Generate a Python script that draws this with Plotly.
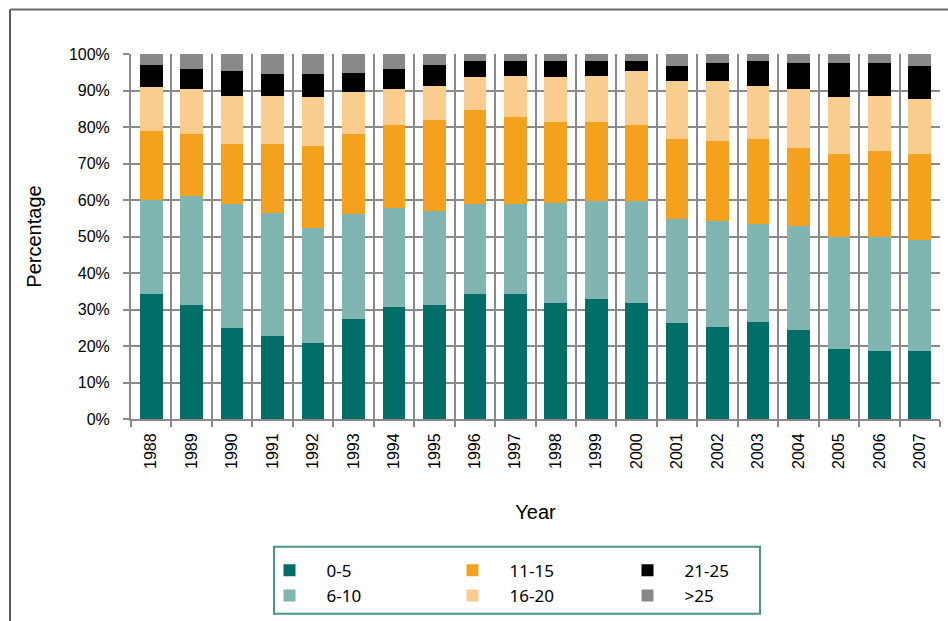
import plotly.graph_objects as go

# Years on the x axis
years = [str(y) for y in range(1988, 2008)]

# Share of each age band per year (percent of total), bottom to top
band_0_5 = [34.2, 31.1, 24.8, 22.7, 20.9, 27.4, 30.6, 31.1, 34.2, 34.2,
            31.9, 32.8, 31.9, 26.2, 25.3, 26.6, 24.4, 19.1, 18.6, 18.6]
band_6_10 = [25.9, 30.0, 34.0, 33.8, 31.5, 28.7, 27.3, 25.8, 24.6, 24.6,
             27.4, 26.9, 27.8, 28.5, 29.0, 26.8, 28.6, 30.7, 31.2, 30.4]
band_11_15 = [18.8, 16.9, 16.5, 18.8, 22.4, 21.9, 22.7, 24.9, 25.8, 24.0,
              22.2, 21.8, 20.9, 21.9, 21.9, 23.2, 21.3, 22.8, 23.7, 23.6]
band_16_20 = [12.0, 12.5, 13.3, 13.3, 13.4, 11.6, 9.8, 9.5, 9.0, 11.2,
              12.1, 12.5, 14.8, 16.1, 16.5, 14.7, 16.1, 15.6, 15.1, 15.1]
band_21_25 = [6.0, 5.3, 6.7, 5.9, 6.3, 5.3, 5.4, 5.6, 4.4, 4.0,
              4.4, 4.0, 2.6, 4.0, 4.9, 6.7, 7.2, 9.4, 9.0, 9.0]
band_over_25 = [3.1, 4.2, 4.7, 5.5, 5.5, 5.1, 4.2, 3.1, 2.0, 2.0,
                2.0, 2.0, 2.0, 3.3, 2.4, 2.0, 2.4, 2.4, 2.4, 3.3]

band_labels = ["0-5", "6-10", "11-15", "16-20", "21-25", ">25"]
band_values = [band_0_5, band_6_10, band_11_15, band_16_20, band_21_25, band_over_25]
band_colors = ["#016e68", "#80b5b2", "#f4a11d", "#f9cd8d", "#000000", "#888889"]
band_legends = ["legend", "legend", "legend2", "legend2", "legend3", "legend3"]

W, H = 948, 621
L, R, T, B = 131, 8, 53.5, 202
PW, PH = W - L - R, H - T - B


def px_x(x):
    return (x - L) / PW


def px_y(y):
    return (H - B - y) / PH


fig = go.Figure()
for label, vals, color, lg in zip(band_labels, band_values, band_colors, band_legends):
    fig.add_trace(go.Bar(
        x=years, y=vals, name=label, legend=lg,
        marker=dict(color=color, line=dict(width=0)),
    ))

grid = "#8a8a8a"
axis_font = dict(family="Liberation Sans, Arial, sans-serif", size=16, color="#000000")
title_font = dict(family="Liberation Sans, Arial, sans-serif", size=20, color="#000000")
legend_font = dict(family="Noto Sans, sans-serif", size=17, color="#000000")

legend_common = dict(
    orientation="v", xanchor="left", yanchor="top", traceorder="normal",
    y=px_y(553), bgcolor="rgba(0,0,0,0)", borderwidth=0,
    font=legend_font, itemwidth=64, tracegroupgap=0,
    itemclick=False, itemdoubleclick=False,
)

fig.update_layout(
    width=W, height=H,
    margin=dict(l=L, r=R, t=T, b=B, autoexpand=False),
    paper_bgcolor="white", plot_bgcolor="white",
    barmode="stack", bargap=0.44,
    showlegend=True,
    legend=dict(x=px_x(252.5), **legend_common),
    legend2=dict(x=px_x(435.5), **legend_common),
    legend3=dict(x=px_x(610.5), **legend_common),
    xaxis=dict(
        type="category", range=[-0.5, 19.5], tickson="boundaries",
        showgrid=True, gridcolor=grid, gridwidth=2,
        showline=True, linecolor=grid, linewidth=2,
        ticks="outside", ticklen=6, tickwidth=2, tickcolor=grid,
        tickangle=-90, tickfont=axis_font, ticklabelstandoff=6,
        title=dict(text="Year", font=title_font, standoff=37),
        automargin=False, fixedrange=True,
    ),
    yaxis=dict(
        range=[0, 100], dtick=10, ticksuffix="%",
        showgrid=True, gridcolor=grid, gridwidth=2,
        showline=True, linecolor=grid, linewidth=2,
        ticks="outside", ticklen=6, tickwidth=2, tickcolor=grid,
        tickfont=axis_font, ticklabelstandoff=10, zeroline=False,
        title=dict(text="Percentage", font=title_font, standoff=22),
        automargin=False, fixedrange=True,
    ),
    shapes=[
        # outer frame: left and top edges
        dict(type="line", xref="paper", yref="paper",
             x0=px_x(10), x1=px_x(10), y0=px_y(9), y1=px_y(H + 5),
             line=dict(color="#5a5a5a", width=2)),
        dict(type="line", xref="paper", yref="paper",
             x0=px_x(10), x1=px_x(W + 5), y0=px_y(9), y1=px_y(9),
             line=dict(color="#6a6a6a", width=2)),
        # legend box
        dict(type="rect", xref="paper", yref="paper",
             x0=px_x(274), x1=px_x(760), y0=px_y(547), y1=px_y(614),
             line=dict(color="#4a948f", width=2), fillcolor="rgba(0,0,0,0)"),
    ],
)

fig.write_html("out.html")
